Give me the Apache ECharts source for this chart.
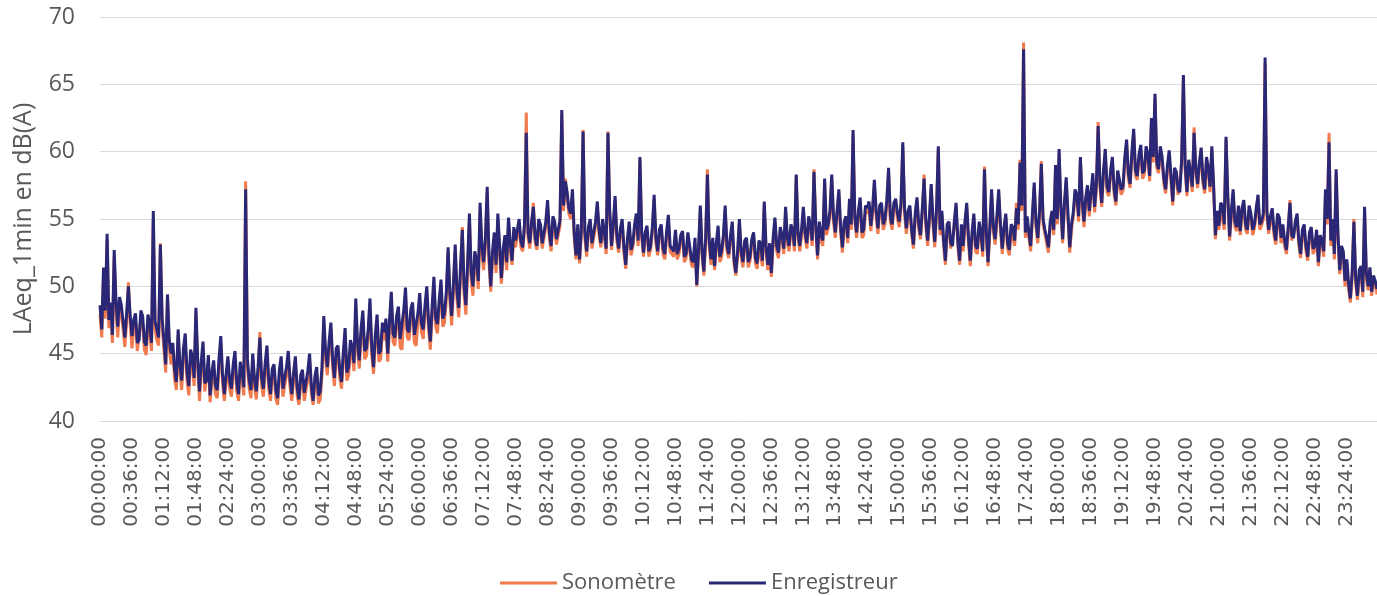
<!DOCTYPE html>
<html>
<head>
<meta charset="utf-8">
<title>LAeq_1min</title>
<script src="https://cdn.jsdelivr.net/npm/echarts@6/dist/echarts.min.js"></script>
<style>
    html, body { margin: 0; padding: 0; background: #fff; }
    #main { width: 1377px; height: 596px; }
</style>
</head>
<body>
<div id="main"></div>
<script>
// pas de 2 minutes, 18 points par intervalle de 36 min
var stepMin = 2;
var labelEvery = 18;

// Enregistreur (bleu foncé), une ligne = 36 minutes
var enregistreur = [
    48.6, 46.8, 51.4, 48.2, 53.9, 47.5, 48.8, 46.4, 52.7, 48.9, 47.0, 49.2, 48.6, 47.4, 46.2, 48.0, 50.0, 47.8,
    46.3, 47.5, 48.0, 45.8, 46.0, 48.2, 47.8, 45.9, 45.6, 47.9, 47.2, 45.8, 55.6, 47.4, 46.8, 46.2, 53.1, 47.6,
    46.0, 44.2, 49.4, 46.0, 45.0, 45.8, 43.8, 42.9, 46.8, 44.2, 43.0, 45.4, 46.5, 43.6, 42.6, 45.3, 44.8, 43.2,
    48.4, 44.6, 42.2, 44.4, 45.9, 42.8, 43.0, 44.9, 41.9, 43.6, 44.5, 42.6, 42.3, 44.6, 46.3, 43.4, 42.0, 43.5,
    44.8, 43.0, 42.4, 44.2, 45.2, 42.8, 42.0, 44.4, 43.6, 42.5, 57.2, 44.6, 43.0, 42.3, 45.0, 43.1, 42.2, 44.0,
    46.2, 43.2, 42.4, 44.3, 45.6, 43.0, 42.0, 43.9, 44.2, 42.3, 41.7, 43.8, 44.8, 42.4, 42.5, 44.0, 45.2, 43.1,
    42.0, 43.6, 44.8, 42.5, 41.6, 43.4, 43.8, 42.1, 42.0, 43.7, 45.0, 42.6, 41.5, 43.3, 44.0, 41.9, 42.2, 44.0,
    47.8, 45.2, 44.0, 45.9, 47.3, 44.5, 43.2, 45.4, 45.6, 43.8, 42.9, 45.1, 46.9, 43.6, 44.0, 46.0, 45.5, 44.3,
    49.1, 45.8, 44.5, 46.9, 48.2, 45.2, 45.4, 46.8, 49.1, 45.5, 44.0, 46.4, 47.9, 45.0, 45.2, 47.3, 46.6, 47.6,
    45.0, 47.4, 49.6, 46.5, 46.2, 47.8, 48.5, 46.1, 46.0, 48.2, 49.9, 46.8, 46.6, 48.3, 48.8, 46.4, 46.3, 48.0,
    49.5, 47.2, 46.8, 48.6, 50.0, 47.4, 45.9, 48.5, 50.7, 47.6, 47.2, 49.0, 50.5, 47.6, 48.0, 49.6, 52.9, 49.5,
    47.8, 50.2, 53.1, 49.6, 48.4, 51.5, 54.2, 50.0, 48.6, 51.8, 55.4, 51.0, 50.0, 52.6, 52.0, 50.4, 56.2, 53.0,
    51.8, 53.6, 57.4, 52.4, 50.0, 52.6, 54.0, 51.6, 55.4, 53.0, 50.6, 52.8, 53.8, 51.8, 55.1, 53.2, 51.9, 54.4,
    53.4, 54.2, 55.0, 53.3, 52.9, 54.6, 61.4, 54.0, 53.2, 54.8, 55.9, 53.6, 53.0, 55.0, 54.6, 53.2, 53.3, 54.8,
    56.4, 54.0, 53.0, 55.2, 54.8, 53.5, 53.4, 54.9, 63.1, 56.0, 57.8, 57.0, 55.8, 55.4, 57.2, 54.0, 52.3, 54.6,
    52.0, 54.2, 61.5, 54.0, 52.6, 54.4, 55.0, 53.2, 53.1, 54.8, 56.3, 54.2, 53.2, 55.0, 54.0, 52.8, 61.4, 55.6,
    53.0, 54.6, 56.7, 53.8, 52.8, 54.3, 55.0, 52.9, 51.6, 53.6, 54.8, 52.7, 53.2, 54.6, 55.4, 53.4, 59.6, 54.0,
    52.5, 54.0, 54.5, 52.6, 53.0, 54.4, 56.8, 53.6, 52.6, 54.2, 54.6, 52.8, 52.4, 54.0, 55.3, 53.0, 53.0, 52.6,
    54.2, 52.4, 52.8, 53.8, 54.1, 52.2, 52.4, 54.0, 53.0, 52.0, 51.8, 53.6, 50.1, 52.8, 56.0, 52.6, 51.1, 53.6,
    58.3, 53.4, 52.0, 53.6, 51.5, 53.2, 54.5, 52.2, 52.6, 53.8, 56.0, 53.0, 52.4, 53.8, 54.8, 52.0, 51.0, 52.6,
    55.0, 52.6, 51.8, 53.4, 53.6, 51.8, 52.2, 53.5, 54.0, 52.1, 51.7, 53.4, 53.2, 51.9, 56.3, 53.0, 51.6, 53.2,
    51.0, 53.6, 55.1, 53.0, 52.5, 54.4, 53.8, 52.8, 55.9, 53.6, 53.0, 54.6, 54.2, 53.0, 58.3, 54.0, 53.0, 54.2,
    55.9, 54.0, 53.2, 55.2, 54.5, 53.4, 58.5, 54.6, 52.3, 54.8, 53.8, 53.4, 58.0, 54.2, 54.6, 55.6, 58.3, 55.2,
    54.0, 55.6, 57.2, 54.4, 52.9, 54.8, 55.2, 53.6, 56.5, 54.6, 61.6, 55.2, 54.0, 55.6, 56.6, 54.0, 54.2, 56.0,
    55.8, 56.3, 54.5, 55.8, 57.9, 55.6, 54.3, 56.0, 56.2, 54.6, 55.0, 56.4, 58.8, 55.2, 54.6, 56.2, 56.5, 55.4,
    54.8, 56.2, 60.7, 55.8, 54.3, 55.6, 56.0, 54.2, 53.1, 55.4, 56.6, 54.6, 53.8, 55.8, 58.0, 54.8, 53.4, 55.2,
    57.6, 55.0, 53.3, 55.8, 60.4, 54.2, 55.6, 53.4, 51.9, 54.6, 54.8, 53.2, 53.0, 54.8, 56.2, 53.4, 51.9, 54.6,
    53.0, 54.8, 56.2, 53.6, 51.9, 54.0, 55.4, 53.0, 52.8, 54.8, 54.0, 52.6, 58.7, 54.2, 51.8, 54.4, 57.2, 54.4,
    53.5, 55.2, 57.2, 54.6, 52.8, 54.4, 55.4, 53.2, 52.7, 54.6, 54.4, 53.4, 55.8, 54.6, 59.2, 56.0, 67.6, 54.0,
    55.2, 54.0, 53.0, 55.4, 57.7, 54.8, 53.6, 55.6, 59.1, 55.0, 54.2, 53.6, 52.9, 54.8, 55.6, 54.2, 59.0, 55.0,
    60.2, 56.0, 53.5, 56.2, 58.1, 55.4, 52.9, 54.6, 55.5, 57.2, 56.8, 55.2, 59.6, 56.4, 54.8, 56.6, 57.5, 55.6,
    57.0, 58.4, 55.9, 57.6, 61.9, 57.8, 56.2, 58.6, 60.2, 57.4, 57.0, 58.6, 59.6, 57.2, 56.3, 58.6, 58.5, 57.2,
    57.4, 59.6, 60.9, 58.4, 57.6, 60.0, 61.7, 58.6, 58.2, 59.8, 60.5, 58.4, 58.6, 60.4, 59.8, 58.2, 62.5, 59.6,
    64.3, 59.2, 58.7, 60.4, 59.6, 58.0, 57.2, 59.0, 60.1, 58.2, 56.3, 58.8, 58.5, 57.2, 57.0, 59.4, 65.7, 59.0,
    57.0, 59.4, 58.5, 57.4, 61.4, 58.8, 57.6, 59.2, 60.3, 58.0, 57.2, 59.6, 58.8, 57.4, 60.4, 57.6, 53.8, 55.6,
    54.5, 56.2, 56.0, 54.6, 61.1, 56.8, 53.7, 55.6, 57.2, 54.8, 54.4, 56.0, 54.1, 55.8, 56.4, 54.6, 54.2, 56.0,
    55.4, 54.2, 54.6, 55.8, 56.8, 54.6, 54.8, 55.4, 67.0, 55.6, 54.2, 55.2, 55.8, 54.2, 53.4, 55.4, 55.1, 53.6,
    54.6, 53.4, 52.7, 54.4, 56.2, 53.8, 53.6, 54.8, 55.4, 53.4, 52.4, 54.2, 54.6, 53.0, 52.2, 54.0, 54.4, 52.8,
    53.0, 54.2, 51.8, 53.8, 53.4, 52.6, 57.2, 55.0, 60.7, 53.4, 55.0, 52.4, 58.7, 54.0, 51.2, 53.0, 52.6, 50.4,
    52.0, 50.2, 49.1, 51.0, 54.8, 50.6, 49.3, 51.2, 51.5, 49.6, 55.9, 51.0, 50.0, 51.4, 49.6, 50.8, 50.4, 49.8
];

// Sonomètre (orange)
var sonometre = [
    47.9, 46.2, 50.8, 47.6, 53.5, 46.9, 47.9, 45.8, 52.2, 48.3, 46.2, 48.6, 48.0, 46.8, 45.5, 47.4, 50.3, 47.2,
    45.4, 46.9, 47.4, 45.2, 45.1, 47.6, 47.1, 45.3, 44.9, 47.3, 46.5, 45.2, 55.0, 46.8, 46.0, 45.6, 53.2, 47.0,
    45.3, 43.6, 49.3, 45.4, 44.2, 45.2, 43.1, 42.3, 46.4, 43.6, 42.3, 44.8, 45.9, 43.0, 41.9, 44.7, 44.1, 42.6,
    48.0, 44.0, 41.5, 43.8, 45.3, 42.2, 42.3, 44.3, 41.4, 43.0, 43.9, 42.0, 41.7, 44.0, 45.8, 42.8, 41.5, 42.9,
    44.2, 42.4, 41.8, 43.6, 44.6, 42.2, 41.5, 43.8, 43.0, 41.9, 57.8, 44.0, 42.4, 41.7, 44.5, 42.5, 41.6, 43.4,
    46.6, 42.6, 41.8, 43.7, 45.0, 42.4, 41.5, 43.3, 43.6, 41.7, 41.2, 43.2, 44.2, 41.8, 41.9, 43.4, 44.6, 42.5,
    41.5, 43.0, 44.2, 41.9, 41.2, 42.8, 43.2, 41.5, 41.5, 43.1, 44.5, 42.0, 41.2, 42.7, 43.4, 41.3, 41.6, 43.4,
    47.4, 44.6, 43.4, 45.3, 46.8, 43.9, 42.6, 44.8, 45.0, 43.2, 42.4, 44.5, 46.3, 43.0, 43.4, 45.4, 44.9, 43.7,
    48.6, 45.2, 43.9, 46.3, 47.6, 44.6, 44.8, 46.2, 48.5, 44.9, 43.5, 45.8, 47.3, 44.4, 44.6, 46.7, 46.0, 47.0,
    44.4, 46.8, 49.1, 45.9, 45.6, 47.2, 47.9, 45.5, 45.3, 47.6, 49.3, 46.2, 46.0, 47.7, 48.2, 45.8, 45.6, 47.4,
    48.9, 46.6, 46.1, 48.0, 49.4, 46.8, 45.3, 47.9, 50.1, 47.0, 46.5, 48.4, 49.9, 47.0, 47.3, 49.0, 52.6, 48.9,
    47.1, 49.6, 52.6, 49.0, 47.7, 50.9, 54.4, 49.4, 47.9, 51.2, 54.9, 50.4, 49.3, 52.0, 51.4, 49.8, 55.6, 52.4,
    51.2, 53.0, 56.9, 51.8, 49.6, 52.0, 53.4, 51.0, 55.0, 52.4, 50.2, 52.2, 53.1, 51.2, 54.6, 52.6, 51.6, 53.8,
    52.9, 53.8, 54.6, 52.9, 52.6, 54.2, 62.9, 53.6, 52.8, 54.4, 56.2, 53.2, 52.7, 54.6, 54.1, 52.8, 52.9, 54.4,
    56.0, 53.6, 52.6, 54.8, 54.4, 53.1, 53.0, 54.5, 62.8, 55.6, 58.0, 56.6, 55.4, 55.0, 56.8, 53.6, 52.0, 54.2,
    51.7, 53.8, 61.6, 53.6, 52.2, 54.0, 54.6, 52.8, 52.8, 54.4, 55.9, 53.8, 52.9, 54.6, 53.7, 52.4, 61.5, 55.2,
    52.7, 54.2, 56.4, 53.4, 52.5, 53.9, 54.6, 52.5, 51.3, 53.2, 54.4, 52.3, 52.9, 54.2, 55.0, 53.0, 59.4, 53.6,
    52.2, 53.6, 54.1, 52.2, 52.7, 54.0, 56.5, 53.2, 52.3, 53.8, 54.3, 52.4, 52.0, 53.6, 55.0, 52.6, 52.7, 52.2,
    53.9, 52.0, 52.4, 53.4, 53.8, 51.8, 52.1, 53.6, 52.7, 51.6, 51.4, 53.2, 50.0, 52.4, 55.7, 52.2, 50.8, 53.2,
    58.7, 53.0, 51.6, 53.2, 51.2, 52.8, 54.2, 51.8, 52.2, 53.4, 55.7, 52.6, 52.1, 53.4, 54.4, 51.6, 50.8, 52.2,
    54.7, 52.2, 51.4, 53.0, 53.3, 51.4, 51.9, 53.1, 53.7, 51.7, 51.3, 53.0, 52.9, 51.5, 56.0, 52.6, 51.2, 52.8,
    50.7, 53.2, 54.8, 52.6, 52.1, 54.0, 53.5, 52.4, 55.6, 53.2, 52.6, 54.2, 53.9, 52.6, 58.2, 53.6, 52.6, 53.8,
    55.6, 53.6, 52.8, 54.8, 54.2, 53.0, 58.7, 54.2, 52.0, 54.4, 53.4, 53.0, 57.7, 53.8, 54.3, 55.2, 58.0, 54.8,
    53.6, 55.2, 56.9, 54.0, 52.5, 54.4, 54.9, 53.2, 56.2, 54.2, 61.3, 54.8, 53.6, 55.2, 56.3, 53.6, 53.8, 55.6,
    55.4, 55.9, 54.1, 55.4, 57.6, 55.2, 53.9, 55.6, 55.9, 54.2, 54.6, 56.0, 58.5, 54.8, 54.2, 55.8, 56.2, 55.0,
    54.4, 55.8, 60.4, 55.4, 53.9, 55.2, 55.7, 53.8, 52.8, 55.0, 56.3, 54.2, 53.5, 55.4, 58.3, 54.4, 53.0, 54.8,
    57.3, 54.6, 52.9, 55.4, 60.2, 53.8, 55.3, 53.0, 51.6, 54.2, 54.4, 52.8, 52.7, 54.4, 55.9, 53.0, 51.6, 54.2,
    52.6, 54.4, 55.9, 53.2, 51.5, 53.6, 55.1, 52.6, 52.4, 54.4, 53.7, 52.2, 58.9, 53.8, 51.5, 54.0, 56.9, 54.0,
    53.1, 54.8, 56.9, 54.2, 52.4, 54.0, 55.1, 52.8, 52.3, 54.2, 54.1, 53.0, 56.2, 54.2, 59.4, 55.6, 68.1, 53.6,
    54.9, 53.6, 52.6, 55.0, 57.4, 54.4, 53.2, 55.2, 59.3, 54.6, 53.9, 53.2, 52.5, 54.4, 55.3, 53.8, 58.7, 54.6,
    59.9, 55.6, 53.2, 55.8, 57.8, 55.0, 52.5, 54.2, 55.2, 56.8, 56.5, 54.8, 59.4, 56.0, 54.4, 56.2, 57.2, 55.2,
    56.7, 58.0, 55.5, 57.2, 62.2, 57.4, 55.9, 58.2, 59.9, 57.0, 56.7, 58.2, 59.3, 56.8, 56.0, 58.2, 58.2, 56.8,
    57.1, 59.2, 60.6, 58.0, 57.3, 59.6, 61.4, 58.2, 57.9, 59.4, 60.2, 58.0, 58.3, 60.0, 59.5, 57.8, 62.2, 59.2,
    64.0, 58.8, 58.4, 60.0, 59.3, 57.6, 56.9, 58.6, 59.8, 57.8, 56.0, 58.4, 58.2, 56.8, 56.7, 59.0, 65.4, 58.6,
    56.7, 59.0, 58.2, 57.0, 61.8, 58.4, 57.3, 58.8, 60.0, 57.6, 56.9, 59.2, 58.5, 57.0, 60.1, 57.2, 53.5, 55.2,
    54.2, 55.8, 55.7, 54.2, 60.9, 56.4, 53.4, 55.2, 56.9, 54.4, 54.1, 55.6, 53.8, 55.4, 56.1, 54.2, 53.9, 55.6,
    55.1, 53.8, 54.3, 55.4, 56.5, 54.2, 54.5, 55.0, 66.6, 55.2, 53.9, 54.8, 55.5, 53.8, 53.1, 55.0, 54.8, 53.2,
    54.3, 53.0, 52.4, 54.0, 56.4, 53.4, 53.3, 54.4, 55.1, 53.0, 52.1, 53.8, 54.3, 52.6, 51.9, 53.6, 54.1, 52.4,
    52.7, 53.8, 51.5, 53.4, 53.1, 52.2, 56.9, 54.6, 61.4, 53.0, 54.7, 52.0, 58.4, 53.6, 50.9, 52.6, 52.3, 50.0,
    51.7, 49.8, 48.8, 50.6, 55.0, 50.2, 49.0, 50.8, 51.2, 49.2, 55.6, 50.6, 49.7, 51.0, 49.3, 50.4, 50.1, 49.4
];

var yTicks = [40, 45, 50, 55, 60, 65, 70];

// heures HH:MM:SS
var heures = [];
for (var i = 0; i < enregistreur.length; i++) {
    var m = i * stepMin;
    var hh = Math.floor(m / 60), mm = m % 60;
    heures.push((hh < 10 ? '0' : '') + hh + ':' + (mm < 10 ? '0' : '') + mm + ':00');
}

var myChart = echarts.init(document.getElementById('main'));

var option = {
    animation: false,
    backgroundColor: '#ffffff',
    grid: {
        left: 100,
        top: 17,
        width: 1286,
        height: 404
    },
    legend: {
        data: ['Sonomètre', 'Enregistreur'],
        left: 495,
        top: 567,
        itemWidth: 57,
        itemHeight: 14,
        itemGap: 33,
        icon: 'path://M0,6 L57,6 L57,9 L0,9 Z',
        textStyle: { color: '#595959', fontSize: 22, fontFamily: 'Open Sans' }
    },
    xAxis: {
        type: 'category',
        data: heures,
        boundaryGap: false,
        axisLine: { show: true, lineStyle: { color: '#d9d9d9', width: 1 } },
        axisTick: { show: false },
        axisLabel: {
            interval: labelEvery - 1,
            rotate: 90,
            margin: 16,
            color: '#595959',
            fontSize: 20,
            fontFamily: 'DejaVu Sans'
        },
        splitLine: { show: false }
    },
    yAxis: {
        type: 'value',
        min: yTicks[0],
        max: yTicks[yTicks.length - 1],
        interval: 5,
        name: 'LAeq_1min en dB(A)',
        nameLocation: 'middle',
        nameGap: 64,
        nameTextStyle: { color: '#595959', fontSize: 25, fontFamily: 'Open Sans' },
        axisLine: { show: false },
        axisTick: { show: false },
        axisLabel: { color: '#595959', fontSize: 23, fontFamily: 'Open Sans', margin: 25 },
        splitLine: { lineStyle: { color: '#d9d9d9', width: 1 } }
    },
    series: [
        {
            name: 'Sonomètre',
            type: 'line',
            data: sonometre,
            symbol: 'none',
            color: '#EF7B4F',
            lineStyle: { width: 3, color: '#EF7B4F' }
        },
        {
            name: 'Enregistreur',
            type: 'line',
            data: enregistreur,
            symbol: 'none',
            color: '#2B2777',
            lineStyle: { width: 3, color: '#2B2777' }
        }
    ]
};

myChart.setOption(option);
</script>
</body>
</html>
